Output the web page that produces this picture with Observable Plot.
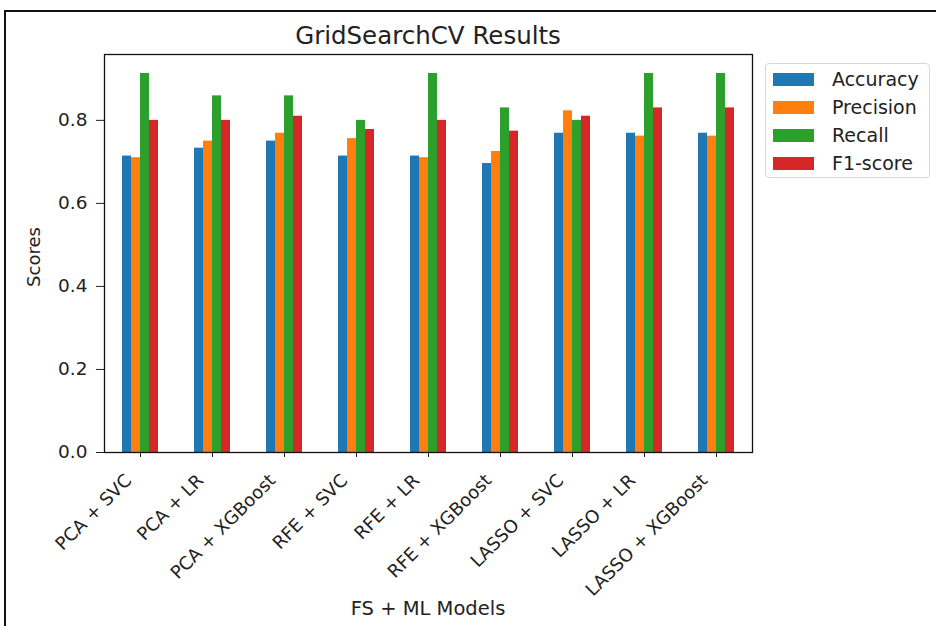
<!DOCTYPE html>
<html>
<head>
<meta charset="utf-8">
<script src="https://cdn.jsdelivr.net/npm/d3@7"></script>
<script src="https://cdn.jsdelivr.net/npm/@observablehq/plot@0.6"></script>
<style>
  html, body { margin: 0; padding: 0; background: #fff; }
  #wrap { position: relative; width: 936px; height: 626px; overflow: hidden;
          font-family: "DejaVu Sans", sans-serif; color: #222; }
  #edge { position: absolute; left: 4px; top: 10px; right: -2px; bottom: -2px;
          border-left: 2px solid #111; border-top: 2px solid #111; }
  #title { position: absolute; left: 100px; width: 656px; top: 21px; text-align: center;
           font-size: 24.5px; }
  #ylabel { position: absolute; left: 33px; top: 257px; font-size: 18px;
            transform: translate(-50%, -50%) rotate(-90deg); white-space: nowrap; }
  #xlabel { position: absolute; left: 100px; width: 656px; top: 597px; text-align: center;
            font-size: 19.5px; }
  #legend { position: absolute; left: 765px; top: 63px; width: 165px; height: 115px;
            box-sizing: border-box; border: 1px solid #d6d6d6; border-radius: 4px;
            padding-top: 1px; }
  .row { display: flex; align-items: center; height: 28px; font-size: 19px; }
  .sw { width: 41px; height: 13px; margin-left: 7px; margin-right: 18px; }
  svg { position: absolute; left: 0; top: 0; }
</style>
</head>
<body>
<div id="wrap">
  <div id="edge"></div>
  <div id="title">GridSearchCV Results</div>
  <div id="ylabel">Scores</div>
  <div id="xlabel">FS + ML Models</div>
  <div id="legend"></div>
</div>
<script>
// Feature-selection + model combinations
const models = ["PCA + SVC", "PCA + LR", "PCA + XGBoost", "RFE + SVC", "RFE + LR",
                "RFE + XGBoost", "LASSO + SVC", "LASSO + LR", "LASSO + XGBoost"];
const metrics = ["Accuracy", "Precision", "Recall", "F1-score"];
const colors = ["#1f77b4", "#ff7f0e", "#2ca02c", "#d62728"];

// Scores per model, one array per metric
const accuracy  = [0.714, 0.733, 0.750, 0.714, 0.714, 0.696, 0.769, 0.769, 0.769];
const precision = [0.710, 0.750, 0.769, 0.756, 0.710, 0.725, 0.823, 0.762, 0.762];
const recall    = [0.913, 0.859, 0.859, 0.800, 0.913, 0.830, 0.800, 0.913, 0.913];
const f1score   = [0.800, 0.800, 0.810, 0.778, 0.800, 0.774, 0.810, 0.830, 0.830];

const yTicks = [0, 0.2, 0.4, 0.6, 0.8];

const series = [accuracy, precision, recall, f1score];
const rows = [];
models.forEach((m, i) => metrics.forEach((k, j) => rows.push({model: m, metric: k, value: series[j][i]})));

const yMax = d3.max(rows, d => d.value) * 1.05;

const chart = Plot.plot({
  width: 936,
  height: 626,
  marginLeft: 100,
  marginRight: 180,
  marginTop: 54,
  marginBottom: 174,
  style: {fontFamily: "DejaVu Sans, sans-serif", fontSize: "17px", color: "#222", background: "transparent"},
  fx: {domain: models, padding: 0},
  x: {domain: metrics, paddingInner: 0, paddingOuter: 2, axis: null},
  y: {domain: [0, yMax]},
  color: {domain: metrics, range: colors},
  marks: [
    Plot.barY(rows, {fx: "model", x: "metric", y: "value", fill: "metric"}),
    Plot.axisY({ticks: yTicks, tickFormat: d3.format(".1f"), tickSize: 8, tickPadding: 9,
                label: null, fontSize: 18.5}),
    // tick marks under each group
    Plot.axisFx({anchor: "bottom", tickSize: 5, tickFormat: () => "", label: null}),
    // rotated group names, right end tucked under the tick
    Plot.axisFx({anchor: "bottom", tickRotate: -45, tickSize: 0, tickPadding: 9,
                 label: null, fontSize: 18, dx: -12, dy: 16}),
    Plot.frame({facet: "super", stroke: "#111", strokeWidth: 1.3})
  ]
});
document.getElementById("wrap").appendChild(chart);

// Legend built from the same metrics and colours
const legend = document.getElementById("legend");
metrics.forEach((k, j) => {
  const row = document.createElement("div");
  row.className = "row";
  const sw = document.createElement("div");
  sw.className = "sw";
  sw.style.background = colors[j];
  row.appendChild(sw);
  row.appendChild(document.createTextNode(k));
  legend.appendChild(row);
});
</script>
</body>
</html>
